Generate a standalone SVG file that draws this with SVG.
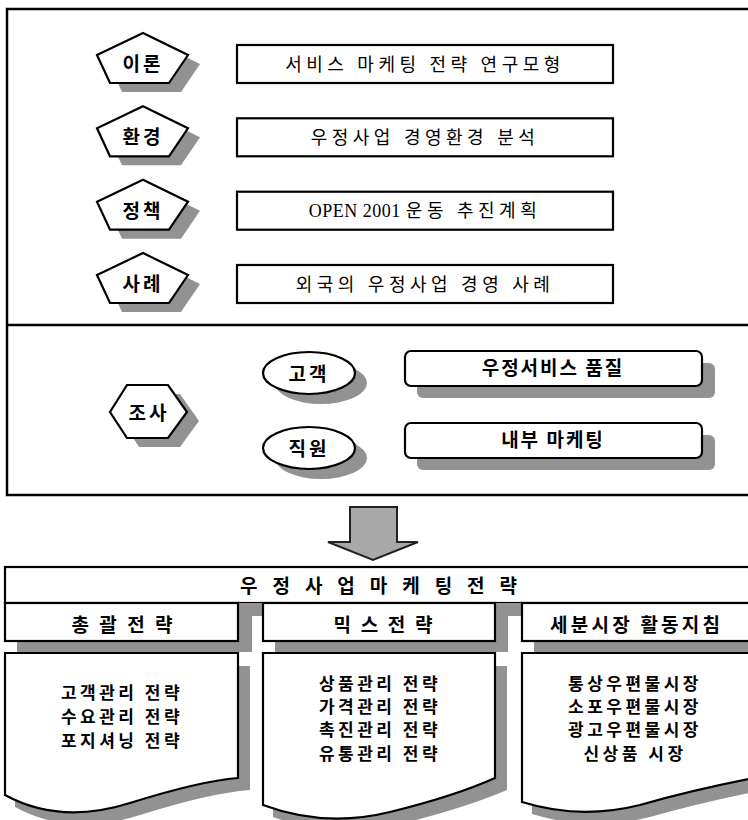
<svg xmlns="http://www.w3.org/2000/svg" width="748" height="820" viewBox="0 0 748 820">
<defs>
<style>
.ln{fill:none;stroke:#000;stroke-width:2.5}
.wh{fill:#fff;stroke:#000;stroke-width:2.2}
.sh{fill:#929292}
.bt{font-family:'Liberation Serif','Noto Sans CJK KR',serif;font-size:18px;letter-spacing:4.5px;text-anchor:middle;fill:#000}
.lat{letter-spacing:0.5px}
.lb{font-family:'Noto Sans CJK KR',sans-serif;font-weight:700;font-size:19px;text-anchor:middle;fill:#000}
.bd{font-family:'Noto Sans CJK KR',sans-serif;font-weight:700;font-size:17px;letter-spacing:3.5px;text-anchor:middle;fill:#000}
</style>
<polygon id="pent" points="143,33 188,55 169,83 110,83 97,55"/>
</defs>
<rect width="748" height="820" fill="#fff"/>

<g id="frame">
<rect class="ln" x="7" y="9" width="760" height="486"/>
<line class="ln" x1="7" y1="325" x2="748" y2="325"/>
</g>

<g id="theory">
<use href="#pent" class="sh" transform="translate(12,9)"/>
<use href="#pent" class="wh"/>
<text class="lb" x="143" y="71" letter-spacing="3">이론</text>
</g>
<g id="env" transform="translate(0,73.3)">
<use href="#pent" class="sh" transform="translate(12,9)"/>
<use href="#pent" class="wh"/>
<text class="lb" x="143" y="71" letter-spacing="3">환경</text>
</g>
<g id="policy" transform="translate(0,146.7)">
<use href="#pent" class="sh" transform="translate(12,9)"/>
<use href="#pent" class="wh"/>
<text class="lb" x="143" y="71" letter-spacing="3">정책</text>
</g>
<g id="case" transform="translate(0,220)">
<use href="#pent" class="sh" transform="translate(12,9)"/>
<use href="#pent" class="wh"/>
<text class="lb" x="143" y="71" letter-spacing="3">사례</text>
</g>

<g id="box1">
<rect class="wh" x="237" y="45" width="376" height="38"/>
<text class="bt" x="425" y="70.5">서비스 마케팅 전략 연구모형</text>
</g>
<g id="box2">
<rect class="wh" x="237" y="118.3" width="376" height="38"/>
<text class="bt" x="425" y="143.8">우정사업 경영환경 분석</text>
</g>
<g id="box3">
<rect class="wh" x="237" y="191.7" width="376" height="38"/>
<text class="bt" x="425" y="217.2"><tspan class="lat">OPEN 2001 </tspan>운동 추진계획</text>
</g>
<g id="box4">
<rect class="wh" x="237" y="265" width="376" height="38"/>
<text class="bt" x="425" y="290.5">외국의 우정사업 경영 사례</text>
</g>

<g id="survey">
<polygon class="sh" points="139,394 180,394 199,421 180,447 139,447 122,421"/>
<polygon class="wh" points="127,385 168,385 187,412 168,438 127,438 110,412"/>
<text class="lb" x="149" y="420" letter-spacing="3">조사</text>
</g>

<g id="customer">
<ellipse class="sh" cx="321" cy="383" rx="46" ry="21"/>
<ellipse class="wh" cx="309" cy="373" rx="46" ry="21"/>
<text class="lb" x="309" y="381" letter-spacing="3">고객</text>
</g>
<g id="staff">
<ellipse class="sh" cx="321" cy="458" rx="46" ry="21"/>
<ellipse class="wh" cx="309" cy="448" rx="46" ry="21"/>
<text class="lb" x="309" y="456" letter-spacing="3">직원</text>
</g>

<g id="quality">
<rect class="sh" x="417" y="363" width="298" height="35" rx="6"/>
<rect class="wh" x="405" y="351" width="297" height="35" rx="6"/>
<text class="lb" x="553" y="375" letter-spacing="2">우정서비스 품질</text>
</g>
<g id="internal">
<rect class="sh" x="417" y="435" width="298" height="35" rx="6"/>
<rect class="wh" x="405" y="423" width="297" height="35" rx="6"/>
<text class="lb" x="553" y="447" letter-spacing="2">내부 마케팅</text>
</g>

<g id="connectors">
<path d="M350,507 H397 V542 H418 L373,560 L328,542 H350 Z" fill="#a8a8a8" stroke="#222" stroke-width="2"/>
</g>

<g id="title">
<rect class="wh" x="5" y="567" width="760" height="36"/>
<text class="lb" x="378.5" y="593" textLength="277" lengthAdjust="spacing">우 정 사 업 마 케 팅 전 략</text>
</g>

<g id="col1">
<rect class="sh" x="238" y="603" width="25" height="13"/>
<rect class="sh" x="17" y="614" width="235" height="38"/>
<rect class="wh" x="5" y="603" width="233" height="38"/>
<text class="lb" x="122" y="632" textLength="101" lengthAdjust="spacing">총 괄 전 략</text>
<path class="sh" d="M15,666 H250 V790 Q210,793 140,815 Q70,837 15,807 Z"/>
<path class="wh" d="M5,653 H238 V778 Q200,781 130,803 Q60,825 5,795 Z"/>
<text class="bd" x="122" y="699">고객관리 전략</text>
<text class="bd" x="122" y="723">수요관리 전략</text>
<text class="bd" x="122" y="747">포지셔닝 전략</text>
</g>

<g id="col2">
<rect class="sh" x="495" y="603" width="27" height="13"/>
<rect class="sh" x="275" y="614" width="233" height="38"/>
<rect class="wh" x="263" y="603" width="232" height="38"/>
<text class="lb" x="383" y="632" textLength="99" lengthAdjust="spacing">믹 스 전 략</text>
<path class="sh" d="M273,666 H507 V790 Q465,808 400,824 Q335,840 273,817 Z"/>
<path class="wh" d="M263,653 H495 V778 Q455,796 390,812 Q325,828 263,805 Z"/>
<text class="bd" x="380" y="690">상품관리 전략</text>
<text class="bd" x="380" y="713">가격관리 전략</text>
<text class="bd" x="380" y="736">촉진관리 전략</text>
<text class="bd" x="380" y="760">유통관리 전략</text>
</g>

<g id="col3">
<rect class="sh" x="534" y="614" width="233" height="38"/>
<rect class="wh" x="522" y="603" width="245" height="38"/>
<text class="lb" x="635" y="632" textLength="170" lengthAdjust="spacing">세분시장 활동지침</text>
<path class="sh" d="M532,666 H780 V787 Q710,800 650,817 Q590,832 532,814 Z"/>
<path class="wh" d="M522,653 H770 V775 Q700,788 640,805 Q580,820 522,802 Z"/>
<text class="bd" x="635" y="690">통상우편물시장</text>
<text class="bd" x="635" y="713">소포우편물시장</text>
<text class="bd" x="635" y="736">광고우편물시장</text>
<text class="bd" x="635" y="760">신상품 시장</text>
</g>
</svg>
